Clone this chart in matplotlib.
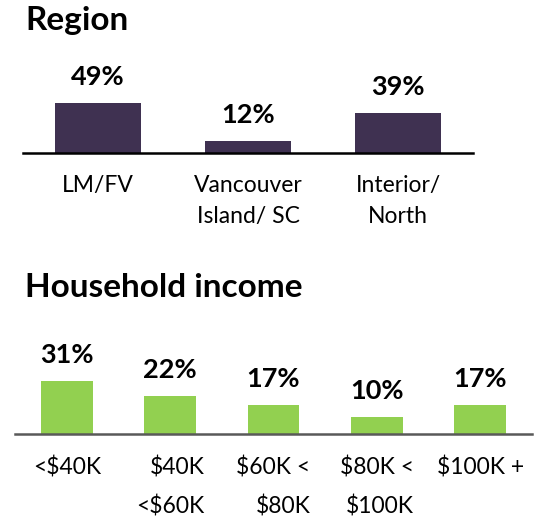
import matplotlib.pyplot as plt

plt.rcParams.update({"font.family": ["Lato", "DejaVu Sans"]})

# ── Data ──────────────────────────────────────────────────────────
region_labels = ["LM/FV", "Vancouver\nIsland/ SC", "Interior/\nNorth"]
region_values = [49, 12, 39]

income_labels = ["<$40K", "$40K\n<$60K", "$60K <\n$80K", "$80K <\n$100K", "$100K +"]
income_values = [31, 22, 17, 10, 17]

W, H = 538, 519
fig = plt.figure(figsize=(W / 100, H / 100), dpi=100)


def px_axes(x0, x1, base, height):
    # axes placed by pixel coords (top-left origin), bottom edge = baseline
    return fig.add_axes([x0 / W, (H - base) / H, (x1 - x0) / W, height / H])


def style(ax, line_color):
    for s in ["top", "right", "left"]:
        ax.spines[s].set_visible(False)
    ax.spines["bottom"].set_color(line_color)
    ax.spines["bottom"].set_linewidth(1.8)
    ax.set_yticks([])
    ax.tick_params(axis="x", length=0)
    ax.patch.set_alpha(0)


# ── Region ────────────────────────────────────────────────────────
ax1 = px_axes(23, 473, 153, 100)
bars = ax1.bar(range(3), region_values, width=0.57, color="#3F3151")
ax1.set_xlim(-0.5, 2.5)
ax1.set_ylim(0, 100 / 1.02)
style(ax1, "black")
ax1.set_xticks(range(3))
ax1.set_xticklabels(region_labels, fontsize=16.5, linespacing=1.55)
ax1.tick_params(axis="x", pad=16)
ax1.bar_label(bars, labels=[f"{v}%" for v in region_values], padding=10,
              fontsize=19.5, fontweight="bold")
fig.text(25 / W, 1 - 30 / H, "Region", fontsize=24, fontweight="bold",
         va="baseline", ha="left")

# ── Household income ──────────────────────────────────────────────
ax2 = px_axes(15, 532, 434, 100)
bars = ax2.bar(range(5), income_values, width=0.5, color="#92D050")
ax2.set_xlim(-0.5, 4.5)
ax2.set_ylim(0, 100 / 1.72)
style(ax2, "#595959")
ax2.set_xticks(range(5))
ax2.set_xticklabels(income_labels, fontsize=16.5, linespacing=1.95,
                    multialignment="right")
ax2.tick_params(axis="x", pad=16)
ax2.bar_label(bars, labels=[f"{v}%" for v in income_values], padding=10,
              fontsize=19.5, fontweight="bold")
fig.text(25 / W, 1 - 297 / H, "Household income", fontsize=24,
         fontweight="bold", va="baseline", ha="left")

fig.savefig("out.png", dpi=100)
